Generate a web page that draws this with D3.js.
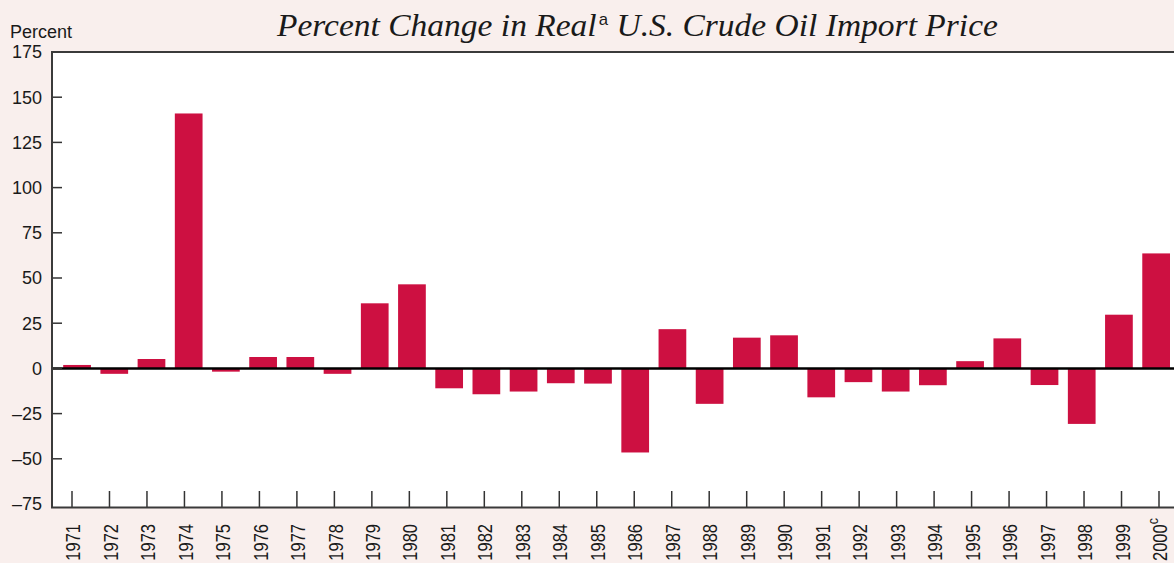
<!DOCTYPE html>
<meta charset="utf-8">
<script src="https://d3js.org/d3.v7.min.js"></script>
<style>
  body { margin: 0; background: #f9efed; }
  text { font-family: "Liberation Sans", Arial, sans-serif; fill: #1a1a1a; }
</style>
<body>
<div id="chart"></div>
<script>

    // data
    var years = ["1971","1972","1973","1974","1975","1976","1977","1978","1979","1980",
                 "1981","1982","1983","1984","1985","1986","1987","1988","1989","1990",
                 "1991","1992","1993","1994","1995","1996","1997","1998","1999","2000"];
    var change = [1.9, -3, 5.2, 141, -1.8, 6.3, 6.3, -3, 36, 46.5,
                  -11, -14.3, -12.8, -8.2, -8.4, -46.5, 21.7, -19.6, 17, 18.3,
                  -16, -7.6, -12.8, -9.3, 4, 16.6, -9.2, -30.7, 29.7, 63.6];
    var yTicks = [175, 150, 125, 100, 75, 50, 25, 0, -25, -50, -75];

    var width = 1174, height = 563;
    var plot = {left: 52, top: 52, right: 1174, bottom: 507.5};

    var svg = d3.select("#chart")
      .append("svg")
        .attr("width", width)
        .attr("height", height);

    // background
    svg.append("rect")
      .attr("width", width).attr("height", height)
      .attr("fill", "#f9efed");
    svg.append("rect")
      .attr("x", plot.left).attr("y", plot.top)
      .attr("width", plot.right - plot.left)
      .attr("height", plot.bottom - plot.top)
      .attr("fill", "#ffffff");

    // scales
    var y = d3.scaleLinear()
      .domain([-75, 175])
      .range([504, 52]);

    var xTick = d3.scalePoint()
      .domain(years)
      .range([72, 1159]);

    var xBar = d3.scaleBand()
      .domain(years)
      .range([63.2, 1170])
      .paddingInner(0.255)
      .paddingOuter(0);

    // bars
    svg.append("g")
      .selectAll("rect")
      .data(years)
      .enter()
      .append("rect")
        .attr("x", function (d) { return xBar(d); })
        .attr("width", xBar.bandwidth())
        .attr("y", function (d, i) { return y(Math.max(0, change[i])); })
        .attr("height", function (d, i) { return Math.abs(y(change[i]) - y(0)); })
        .attr("fill", "#cd1041");

    // zero line
    svg.append("line")
      .attr("x1", plot.left).attr("x2", plot.right)
      .attr("y1", y(0)).attr("y2", y(0))
      .attr("stroke", "#000").attr("stroke-width", 2.5);

    // y axis ticks and labels
    var yAxis = svg.append("g");
    yAxis.selectAll("line")
      .data(yTicks.filter(function (d) { return d < 175 && d > -75; }))
      .enter()
      .append("line")
        .attr("x1", plot.left).attr("x2", 62)
        .attr("y1", function (d) { return y(d); })
        .attr("y2", function (d) { return y(d); })
        .attr("stroke", "#333").attr("stroke-width", 1.5);
    yAxis.selectAll("text")
      .data(yTicks)
      .enter()
      .append("text")
        .attr("x", 42)
        .attr("y", function (d) { return y(d); })
        .attr("dy", "0.36em")
        .attr("text-anchor", "end")
        .style("font-size", "18px")
        .text(function (d) { return d < 0 ? "\u2013" + Math.abs(d) : d; });

    svg.append("text")
      .attr("x", 10).attr("y", 37.5)
      .style("font-size", "18px")
      .text("Percent");

    // x axis ticks and labels
    var xAxis = svg.append("g");
    xAxis.selectAll("line")
      .data(years)
      .enter()
      .append("line")
        .attr("x1", function (d) { return xTick(d); })
        .attr("x2", function (d) { return xTick(d); })
        .attr("y1", 491).attr("y2", plot.bottom)
        .attr("stroke", "#333").attr("stroke-width", 1.5);
    var xl = xAxis.selectAll("text")
      .data(years)
      .enter()
      .append("text")
        .attr("transform", function (d) {
          return "translate(" + (xTick(d) + 1) + "," + (d === "2000" ? 561 : 524) + ") rotate(-90) scale(1,1.2)";
        })
        .attr("dy", "0.36em")
        .attr("text-anchor", function (d) { return d === "2000" ? "start" : "end"; })
        .style("font-size", "16.5px");
    xl.append("tspan").text(function (d) { return d; });
    xl.filter(function (d) { return d === "2000"; })
      .append("tspan")
        .attr("dy", -8)
        .style("font-size", "12.5px")
        .text("c");

    // frame
    svg.append("path")
      .attr("d", "M" + plot.right + "," + plot.top + "H" + plot.left + "V" + plot.bottom + "H" + plot.right)
      .attr("fill", "none")
      .attr("stroke", "#3a3a3a")
      .attr("stroke-width", 2);

    // title
    var title = svg.append("text")
      .attr("x", 0).attr("y", 0)
      .style("font-family", "'Liberation Serif', 'DejaVu Serif', serif")
      .style("font-style", "italic")
      .style("font-size", "32px");
    title.append("tspan").text("Percent Change in Real");
    title.append("tspan")
      .attr("dy", -11)
      .attr("dx", 2)
      .style("font-family", "'Liberation Sans', Arial, sans-serif")
      .style("font-style", "normal")
      .style("font-size", "16px")
      .text("a");
    title.append("tspan")
      .attr("dy", 11)
      .text(" U.S. Crude Oil Import Price");
    // stretch the title to the width it has in the picture
    var tw = title.node().getComputedTextLength();
    var sx = 719 / tw;
    title.attr("transform", "translate(277,36) scale(" + sx + ",1)");

</script>
</body>
